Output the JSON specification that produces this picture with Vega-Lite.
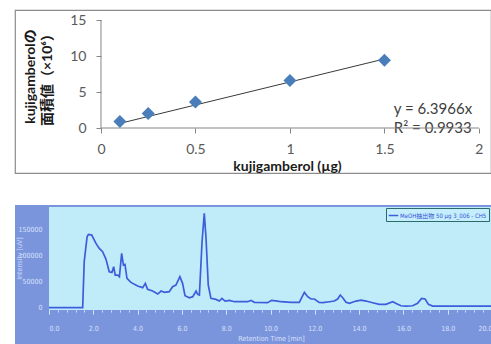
{
  "$schema": "https://vega.github.io/schema/vega-lite/v6.json",
  "padding": {"left": 14, "top": 9, "right": 0, "bottom": 0},
  "background": "white",
  "spacing": 31,
  "resolve": {"scale": {"color": "independent"}, "legend": {"color": "independent"}},
  "config": {
    "view": {"stroke": null},
    "axis": {"labelFont": "Lato", "titleFont": "Lato"}
  },
  "datasets": {
    "calibration": [
      {"amount": 0.1, "area": 0.9},
      {"amount": 0.25, "area": 2.0},
      {"amount": 0.5, "area": 3.6},
      {"amount": 1.0, "area": 6.6},
      {"amount": 1.5, "area": 9.4}
    ],
    "trend": [
      {"amount": 0.1, "area": 0.64},
      {"amount": 1.5, "area": 9.59}
    ],
    "chromatogram": [
      {"time": 0, "intensity": 0},
      {"time": 1.52, "intensity": 0},
      {"time": 1.59, "intensity": 88500},
      {"time": 1.72, "intensity": 136500},
      {"time": 1.78, "intensity": 141000},
      {"time": 1.93, "intensity": 139700},
      {"time": 2.12, "intensity": 123700},
      {"time": 2.27, "intensity": 114100},
      {"time": 2.42, "intensity": 107700},
      {"time": 2.57, "intensity": 93600},
      {"time": 2.72, "intensity": 69200},
      {"time": 2.84, "intensity": 67900},
      {"time": 2.92, "intensity": 78800},
      {"time": 2.99, "intensity": 62800},
      {"time": 3.10, "intensity": 62800},
      {"time": 3.18, "intensity": 59600},
      {"time": 3.28, "intensity": 104500},
      {"time": 3.36, "intensity": 82000},
      {"time": 3.43, "intensity": 83300},
      {"time": 3.52, "intensity": 56400},
      {"time": 3.70, "intensity": 48700},
      {"time": 4.00, "intensity": 41700},
      {"time": 4.23, "intensity": 38500},
      {"time": 4.35, "intensity": 46800},
      {"time": 4.45, "intensity": 35300},
      {"time": 4.68, "intensity": 32000},
      {"time": 4.91, "intensity": 26300},
      {"time": 5.06, "intensity": 32000},
      {"time": 5.21, "intensity": 29500},
      {"time": 5.43, "intensity": 30800},
      {"time": 5.58, "intensity": 40400},
      {"time": 5.73, "intensity": 43600},
      {"time": 5.91, "intensity": 59600},
      {"time": 6.03, "intensity": 46800},
      {"time": 6.14, "intensity": 23100},
      {"time": 6.34, "intensity": 19200},
      {"time": 6.49, "intensity": 21200},
      {"time": 6.64, "intensity": 32000},
      {"time": 6.71, "intensity": 25600},
      {"time": 6.79, "intensity": 24400},
      {"time": 6.91, "intensity": 126900},
      {"time": 7.01, "intensity": 181400},
      {"time": 7.09, "intensity": 133300},
      {"time": 7.19, "intensity": 43600},
      {"time": 7.31, "intensity": 17900},
      {"time": 7.54, "intensity": 16000},
      {"time": 7.69, "intensity": 12800},
      {"time": 7.81, "intensity": 17900},
      {"time": 7.95, "intensity": 12800},
      {"time": 8.14, "intensity": 14100},
      {"time": 8.37, "intensity": 11500},
      {"time": 8.97, "intensity": 11500},
      {"time": 9.12, "intensity": 14100},
      {"time": 9.27, "intensity": 10300},
      {"time": 9.87, "intensity": 9600},
      {"time": 10.05, "intensity": 14100},
      {"time": 10.32, "intensity": 12800},
      {"time": 10.47, "intensity": 11500},
      {"time": 10.93, "intensity": 10300},
      {"time": 11.30, "intensity": 10300},
      {"time": 11.53, "intensity": 29500},
      {"time": 11.68, "intensity": 21200},
      {"time": 11.83, "intensity": 16700},
      {"time": 11.98, "intensity": 16700},
      {"time": 12.20, "intensity": 10300},
      {"time": 12.36, "intensity": 9600},
      {"time": 12.66, "intensity": 11500},
      {"time": 12.88, "intensity": 12800},
      {"time": 13.03, "intensity": 16700},
      {"time": 13.15, "intensity": 24400},
      {"time": 13.26, "intensity": 19200},
      {"time": 13.41, "intensity": 10300},
      {"time": 13.56, "intensity": 8300},
      {"time": 13.86, "intensity": 12800},
      {"time": 14.09, "intensity": 14700},
      {"time": 14.31, "intensity": 12800},
      {"time": 14.61, "intensity": 9600},
      {"time": 14.91, "intensity": 6400},
      {"time": 15.21, "intensity": 6400},
      {"time": 15.52, "intensity": 11500},
      {"time": 15.67, "intensity": 8300},
      {"time": 15.89, "intensity": 3800},
      {"time": 16.12, "intensity": 3200},
      {"time": 16.42, "intensity": 3800},
      {"time": 16.64, "intensity": 8300},
      {"time": 16.82, "intensity": 17900},
      {"time": 16.98, "intensity": 16700},
      {"time": 17.13, "intensity": 6400},
      {"time": 17.32, "intensity": 3200},
      {"time": 20, "intensity": 3200}
    ]
  },
  "vconcat": [
    {
      "width": 476,
      "height": 163,
      "view": {"fill": "white", "stroke": "#8c8c8c", "strokeWidth": 1.2},
      "resolve": {"axis": {"x": "independent", "y": "independent"}},
      "layer": [
        {
          "data": {"values": [{}]},
          "mark": {"type": "text", "align": "left", "baseline": "middle", "font": "Lato", "fontSize": 15, "color": "#404040"},
          "encoding": {
            "x": {"datum": 1.55, "type": "quantitative", "axis": null},
            "y": {"datum": 2.64, "type": "quantitative", "axis": null},
            "text": {"value": "y = 6.3966x"}
          }
        },
        {
          "data": {"values": [{}]},
          "mark": {"type": "text", "align": "left", "baseline": "middle", "font": "Lato", "fontSize": 15, "color": "#404040"},
          "encoding": {
            "x": {"datum": 1.55, "type": "quantitative", "axis": null},
            "y": {"datum": -0.05, "type": "quantitative", "axis": null},
            "text": {"value": "R² = 0.9933"}
          }
        },
        {
          "data": {"values": [{}]},
          "mark": {"type": "rule", "color": "#868686", "strokeWidth": 1},
          "encoding": {
            "x": {"datum": 0, "type": "quantitative", "axis": null},
            "y": {"datum": 0, "type": "quantitative", "axis": null},
            "y2": {"datum": 15}
          }
        },
        {
          "data": {"values": [{}]},
          "mark": {"type": "rule", "color": "#868686", "strokeWidth": 1},
          "encoding": {
            "x": {"datum": 0, "type": "quantitative", "axis": null},
            "x2": {"datum": 2},
            "y": {"datum": 0, "type": "quantitative", "axis": null}
          }
        },
        {
          "data": {"name": "trend"},
          "mark": {"type": "line", "color": "#3a3a3a", "strokeWidth": 1},
          "encoding": {
            "x": {"field": "amount", "type": "quantitative", "axis": null},
            "y": {"field": "area", "type": "quantitative", "axis": null}
          }
        },
        {
          "data": {"name": "calibration"},
          "mark": {"type": "point", "shape": "diamond", "filled": true, "size": 170, "color": "#4a7ebb", "opacity": 1},
          "encoding": {
            "x": {
              "field": "amount",
              "type": "quantitative",
              "scale": {"domain": [-0.455, 2.064], "nice": false, "zero": false},
              "axis": {
                "orient": "bottom",
                "values": [0, 0.5, 1, 1.5, 2],
                "format": "~g",
                "offset": -45,
                "domain": false,
                "grid": false,
                "tickSize": 5,
                "tickColor": "#868686",
                "labelFontSize": 14,
                "labelColor": "#595959",
                "labelPadding": 9,
                "labelOverlap": false,
                "labelFlush": false,
                "title": "kujigamberol (µg)",
                "titleFontSize": 14,
                "titleFontWeight": "bold",
                "titleColor": "#1a1a1a",
                "titleX": 272,
                "titleY": 31,
                "titleAlign": "center",
                "titleBaseline": "top"
              }
            },
            "y": {
              "field": "area",
              "type": "quantitative",
              "scale": {"domain": [-6.25, 16.39], "nice": false, "zero": false},
              "axis": {
                "orient": "left",
                "values": [0, 5, 10, 15],
                "offset": -86,
                "domain": false,
                "grid": false,
                "tickSize": 5,
                "tickColor": "#868686",
                "labelFontSize": 14,
                "labelColor": "#595959",
                "labelPadding": 10,
                "title": ["kujigamberolの", "面積値（×10⁶）"],
                "titleFont": "Lato, Noto Sans CJK JP",
                "titleFontSize": 14,
                "titleFontWeight": "bold",
                "titleColor": "#1a1a1a",
                "titleLineHeight": 17,
                "titleAngle": 270,
                "titleAlign": "center",
                "titleBaseline": "bottom",
                "titleX": -64,
                "titleY": 66
              }
            }
          }
        }
      ]
    },
    {
      "width": 477,
      "height": 139,
      "view": {"fill": "#7b95dd", "stroke": null},
      "resolve": {"axis": {"x": "independent", "y": "independent"}},
      "layer": [
        {
          "data": {"values": [{}]},
          "mark": {"type": "rect", "color": "#c0ecfa"},
          "encoding": {
            "x": {
              "datum": 0,
              "type": "quantitative",
              "scale": {"domain": [-1.535, 20], "nice": false, "zero": false},
              "axis": {
                "orient": "bottom",
                "values": [0, 0.4, 0.8, 1.2, 1.6, 2, 2.4, 2.8, 3.2, 3.6, 4, 4.4, 4.8, 5.2, 5.6, 6, 6.4, 6.8, 7.2, 7.6, 8, 8.4, 8.8, 9.2, 9.6, 10, 10.4, 10.8, 11.2, 11.6, 12, 12.4, 12.8, 13.2, 13.6, 14, 14.4, 14.8, 15.2, 15.6, 16, 16.4, 16.8, 17.2, 17.6, 18, 18.4, 18.8, 19.2, 19.6, 20],
                "offset": -34,
                "labels": false,
                "domain": false,
                "grid": false,
                "tickSize": 2,
                "tickColor": "#d7e2ff",
                "title": null
              }
            },
            "x2": {"datum": 20},
            "y": {
              "datum": -4420,
              "type": "quantitative",
              "scale": {"domain": [-69800, 197500], "nice": false, "zero": false},
              "axis": null
            },
            "y2": {"datum": 193600}
          }
        },
        {
          "data": {"name": "chromatogram"},
          "mark": {"type": "line", "strokeWidth": 1.7, "color": "#3d5ddb"},
          "encoding": {
            "x": {
              "field": "time",
              "type": "quantitative",
              "axis": {
                "orient": "bottom",
                "values": [0, 2, 4, 6, 8, 10, 12, 14, 16, 18, 20],
                "format": ".1f",
                "offset": -34,
                "domain": false,
                "grid": false,
                "tickSize": 4,
                "tickColor": "#d7e2ff",
                "labelFont": "Liberation Sans Narrow, DejaVu Sans Condensed, sans-serif",
                "labelFontSize": 7,
                "labelColor": "#d7e0fb",
                "labelPadding": 10,
                "labelFlush": 36,
                "labelOverlap": false,
                "title": "Retention Time [min]",
                "titleFont": "Liberation Sans Narrow, DejaVu Sans Condensed, sans-serif",
                "titleFontSize": 7,
                "titleFontWeight": "normal",
                "titleColor": "#d7e0fb",
                "titleX": 256,
                "titleY": 24,
                "titleAlign": "center",
                "titleBaseline": "top"
              }
            },
            "y": {
              "field": "intensity",
              "type": "quantitative",
              "axis": {
                "orient": "left",
                "values": [0, 50000, 100000, 150000],
                "format": "d",
                "offset": -34,
                "domain": false,
                "grid": false,
                "ticks": false,
                "labelFont": "Liberation Sans Narrow, DejaVu Sans Condensed, sans-serif",
                "labelFontSize": 7,
                "labelColor": "#d7e0fb",
                "labelPadding": 7,
                "title": "Intensity [uV]",
                "titleFont": "Liberation Sans Narrow, DejaVu Sans Condensed, sans-serif",
                "titleFontSize": 7,
                "titleFontWeight": "normal",
                "titleColor": "#c9d6f7",
                "titleAngle": 270,
                "titleAlign": "center",
                "titleBaseline": "bottom",
                "titleX": -27,
                "titleY": 53
              }
            },
            "color": {
              "datum": "MeOH抽出物 50 μg 3_006 - CH5",
              "scale": {"range": ["#3d5ddb"]},
              "legend": {
                "orient": "top-right",
                "offset": 3,
                "title": null,
                "symbolType": "stroke",
                "symbolSize": 90,
                "symbolStrokeWidth": 1.5,
                "labelFont": "Liberation Sans Narrow, DejaVu Sans Condensed, Noto Sans CJK JP",
                "labelFontSize": 6,
                "labelColor": "#3452d8",
                "labelOffset": 1,
                "strokeColor": "#2c6b6b",
                "fillColor": "#c4eefb",
                "padding": 2,
                "cornerRadius": 0
              }
            }
          }
        }
      ]
    }
  ]
}
